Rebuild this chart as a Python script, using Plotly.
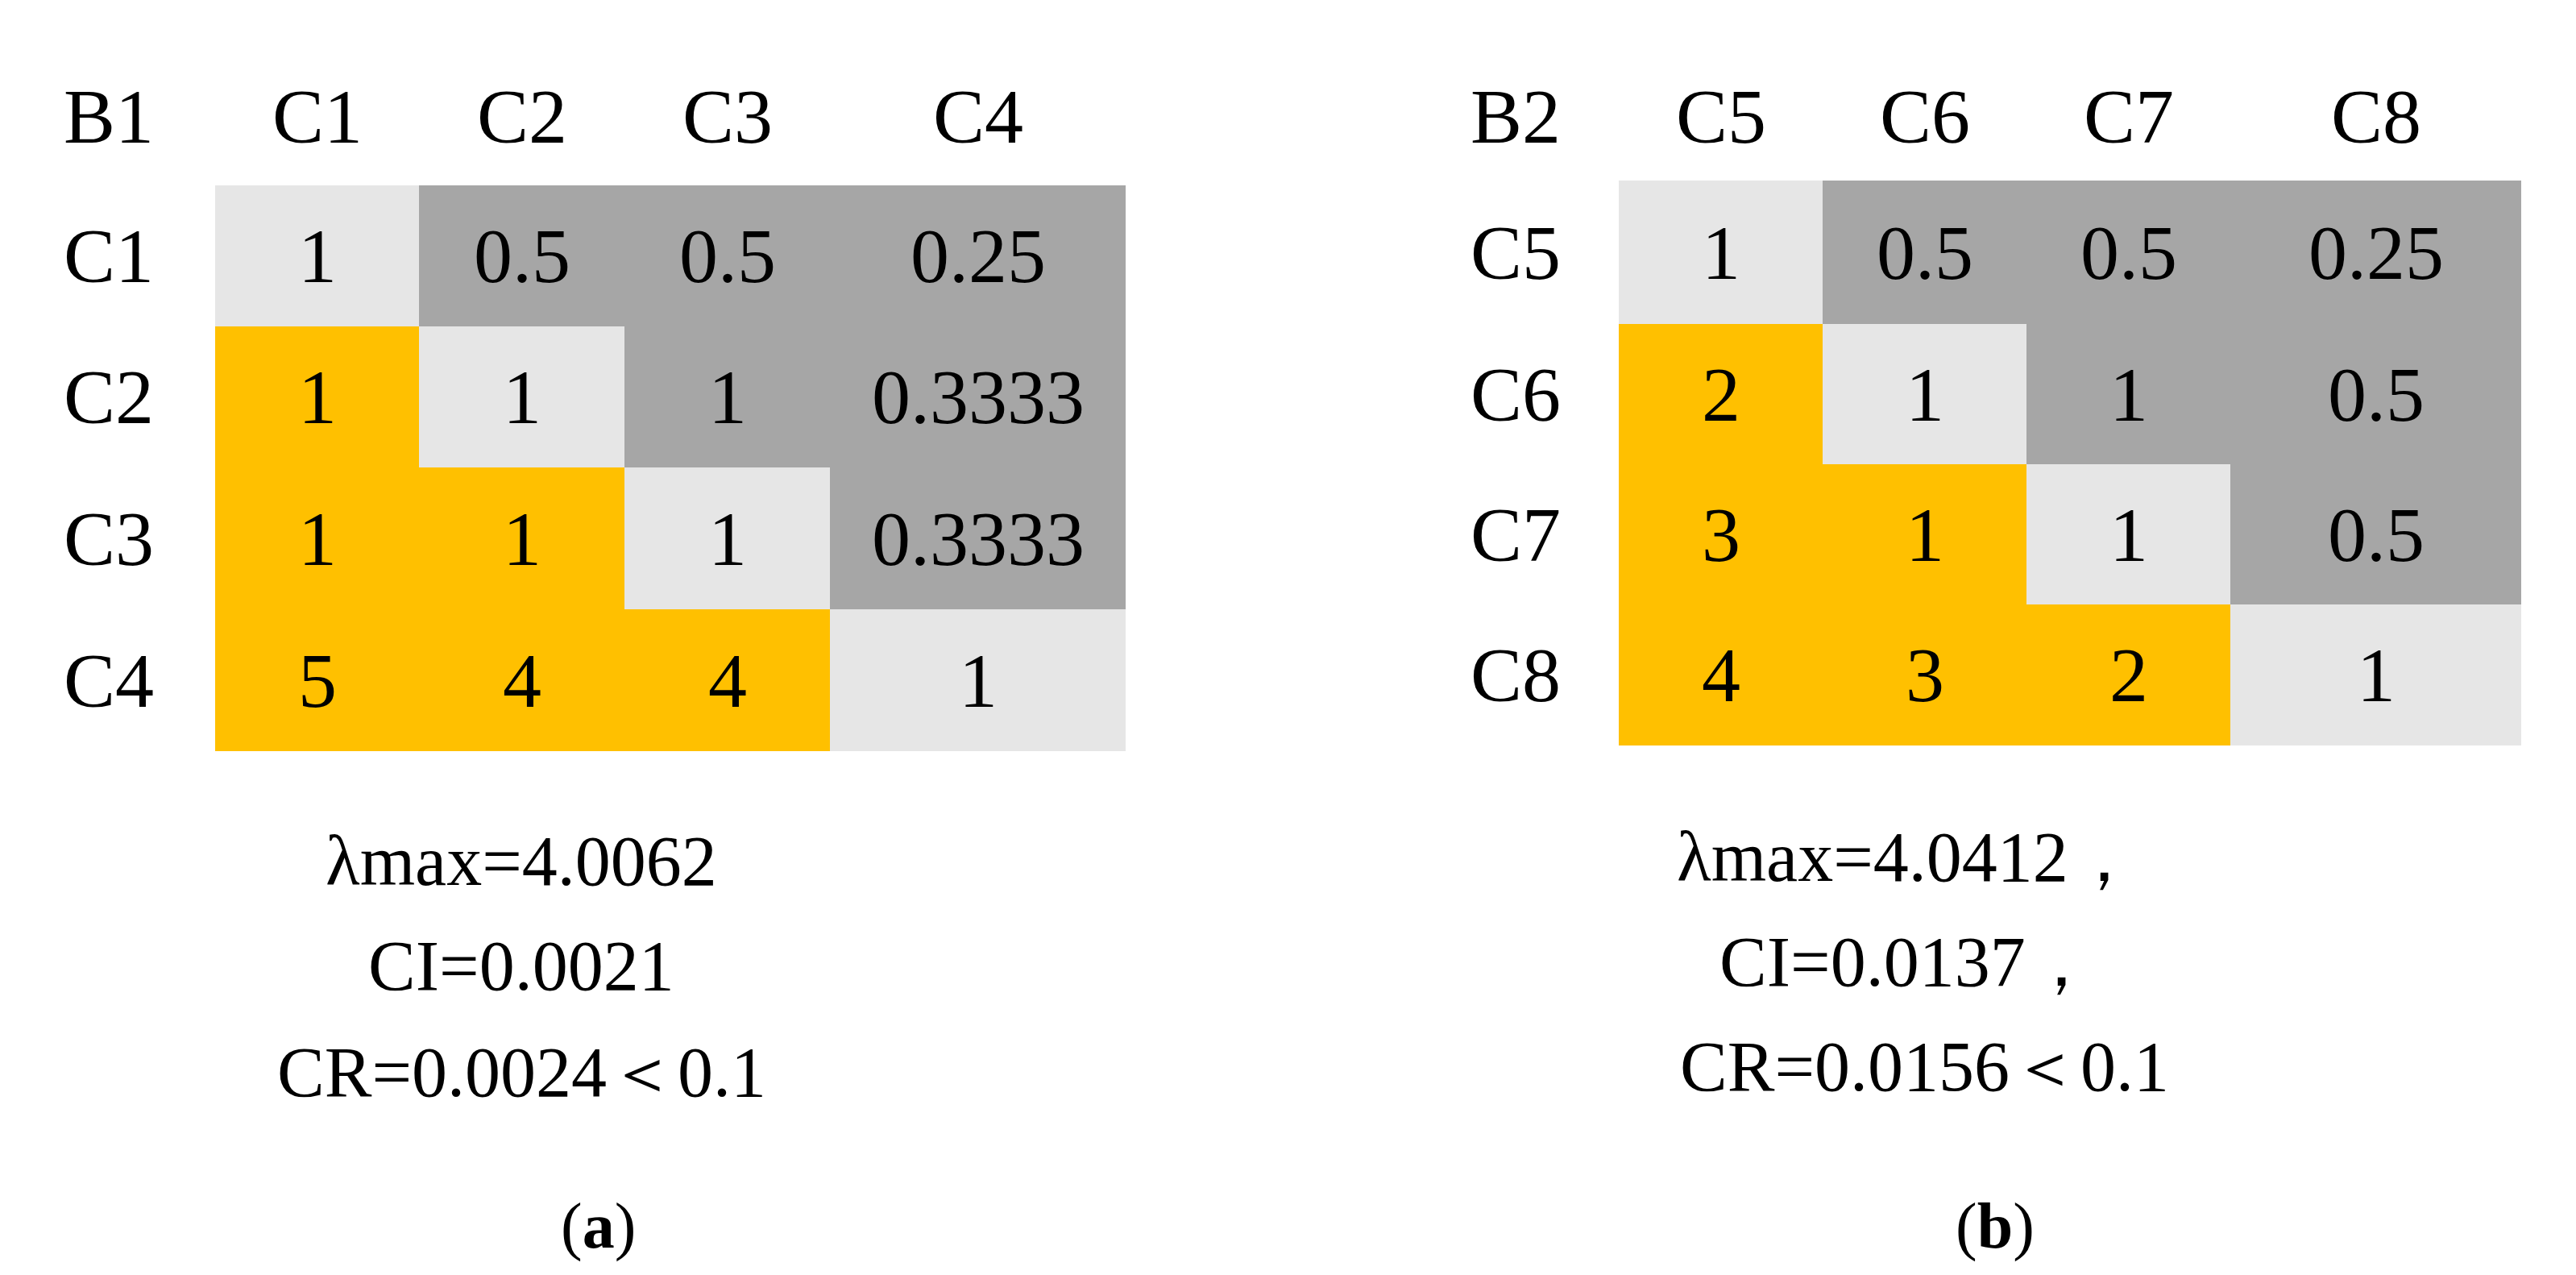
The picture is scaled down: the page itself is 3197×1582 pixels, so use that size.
import plotly.graph_objects as go

W, H = 3197, 1582
rows_a = ["C1", "C2", "C3", "C4"]
rows_b = ["C5", "C6", "C7", "C8"]
vals_a = [["1", "0.5", "0.5", "0.25"],
          ["1", "1", "1", "0.3333"],
          ["1", "1", "1", "0.3333"],
          ["5", "4", "4", "1"]]
vals_b = [["1", "0.5", "0.5", "0.25"],
          ["2", "1", "1", "0.5"],
          ["3", "1", "1", "0.5"],
          ["4", "3", "2", "1"]]
stats_a = ["λmax=4.0062", "CI=0.0021", "CR=0.0024＜0.1"]
stats_b = ["λmax=4.0412，", "CI=0.0137，", "CR=0.0156＜0.1"]

# layout geometry (pixel space)
xa = [259, 512, 767, 1022, 1389]
ya = [222, 397, 572, 748, 924]
xb = [2001, 2254, 2507, 2760, 3121]
yb = [216, 394, 568, 742, 917]

FONT = "Liberation Serif"
fig = go.Figure()
ann = []

def panel(name, rows, vals, xe, ye, labx, stats, sx, sy, cap, capx):
    z = [[0 if i == j else (1 if j > i else 2) for j in range(4)] for i in range(4)]
    fig.add_trace(go.Heatmap(x=xe, y=ye, z=z, zmin=0, zmax=2, showscale=False,
                             colorscale=[[0, "#E6E6E6"], [0.333, "#E6E6E6"], [0.334, "#A6A6A6"],
                                         [0.666, "#A6A6A6"], [0.667, "#FFC000"], [1, "#FFC000"]],
                             hoverinfo="skip"))
    hy = 136
    ann.append(dict(x=labx, y=hy, text=name))
    for j, r in enumerate(rows):
        ann.append(dict(x=(xe[j] + xe[j + 1]) / 2, y=hy, text=r))
        ann.append(dict(x=labx, y=(ye[j] + ye[j + 1]) / 2, text=r))
    for i in range(4):
        for j in range(4):
            ann.append(dict(x=(xe[j] + xe[j + 1]) / 2, y=(ye[i] + ye[i + 1]) / 2, text=vals[i][j]))
    for k, s in enumerate(stats):
        ann.append(dict(x=sx[k], y=sy[k], text=s, font=dict(size=88)))
    ann.append(dict(x=capx, y=1513, text=cap, font=dict(size=80)))

panel("B1", rows_a, vals_a, xa, ya, 127, stats_a, [639, 639, 639], [1060, 1190, 1322], "(<b>a</b>)", 734)
panel("B2", rows_b, vals_b, xb, yb, 1873, stats_b, [2360, 2360, 2380], [1055, 1185, 1315], "(<b>b</b>)", 2468)

for a in ann:
    a.update(xref="x", yref="y", showarrow=False)
    f = dict(family=FONT, size=96, color="black")
    f.update(a.get("font", {}))
    a["font"] = f

fig.update_layout(width=W, height=H, margin=dict(l=0, r=0, t=0, b=0),
                  plot_bgcolor="white", paper_bgcolor="white", annotations=ann,
                  xaxis=dict(range=[0, W], visible=False),
                  yaxis=dict(range=[H, 0], visible=False))
fig.write_html("out.html")
